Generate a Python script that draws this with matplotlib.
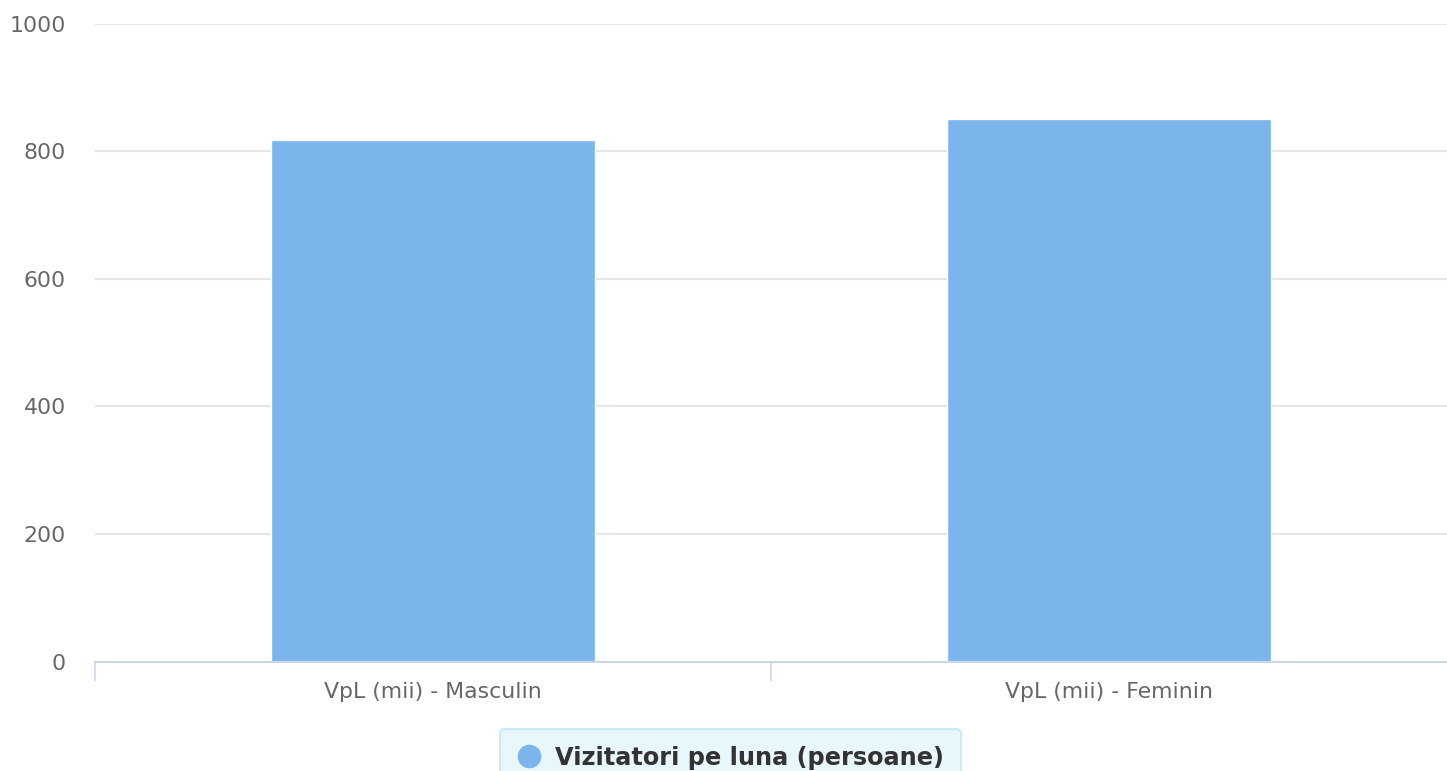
import matplotlib
matplotlib.use("Agg")
import matplotlib.pyplot as plt
from matplotlib.lines import Line2D

categories = ["VpL (mii) - Masculin", "VpL (mii) - Feminin"]
values = [818, 850]
series_name = "Vizitatori pe luna (persoane)"
y_ticks = [0, 200, 400, 600, 800, 1000]

W, H = 1447, 771
fig = plt.figure(figsize=(W / 100, H / 100), dpi=100)
plt.rcParams['font.family'] = ['DejaVu Sans']

left, right = 95 / W, 1.0
bottom, top = 1 - 661.5 / H, 1 - 23.5 / H
ax = fig.add_axes([left, bottom, right - left, top - bottom])

bar_color = "#7cb5ec"
ax.bar(range(len(categories)), values, width=0.48, color=bar_color,
       edgecolor="white", linewidth=1, zorder=3)

ax.set_xlim(-0.5, len(categories) - 0.5)
ax.set_ylim(0, 1000)
ax.set_yticks(y_ticks)
ax.set_yticklabels([str(v) for v in y_ticks])
ax.tick_params(axis='y', length=0, pad=21, labelsize=15.8, labelcolor="#666666")

# x ticks at category boundaries, labels at centers
ax.set_xticks([i - 0.5 for i in range(len(categories))])
ax.set_xticklabels([])
ax.set_xticks(range(len(categories)), minor=True)
ax.set_xticklabels(categories, minor=True)
ax.tick_params(axis='x', which='major', length=13.7, width=1.2, color="#ccd6eb", direction='out')
ax.tick_params(axis='x', which='minor', length=0, pad=15, labelsize=15.8, labelcolor="#666666")

ax.grid(axis='y', color="#e6e6e6", linewidth=1.5, zorder=0)
ax.set_axisbelow(True)
for s in ['top', 'right', 'left']:
    ax.spines[s].set_visible(False)
ax.spines['bottom'].set_color("#ccd6eb")
ax.spines['bottom'].set_linewidth(1.5)
ax.spines['bottom'].set_zorder(4)

handle = Line2D([], [], marker='o', linestyle='none', markersize=16,
                markerfacecolor=bar_color, markeredgecolor=bar_color)
leg = fig.legend([handle], [series_name], loc='upper center',
                 bbox_to_anchor=(730.5 / W, 1 - 729 / H),
                 frameon=True, fancybox=True, handletextpad=0.6,
                 borderpad=0.7, handlelength=1.0, borderaxespad=0,
                 prop={'weight': 'bold', 'size': 17.3})
leg.get_frame().set_facecolor("#e8f7fc")
leg.get_frame().set_edgecolor("#c8ecf7")
leg.get_frame().set_linewidth(1.5)
leg.get_frame().set_alpha(1)
for t in leg.get_texts():
    t.set_color("#333333")

fig.savefig("out.png", dpi=100)
